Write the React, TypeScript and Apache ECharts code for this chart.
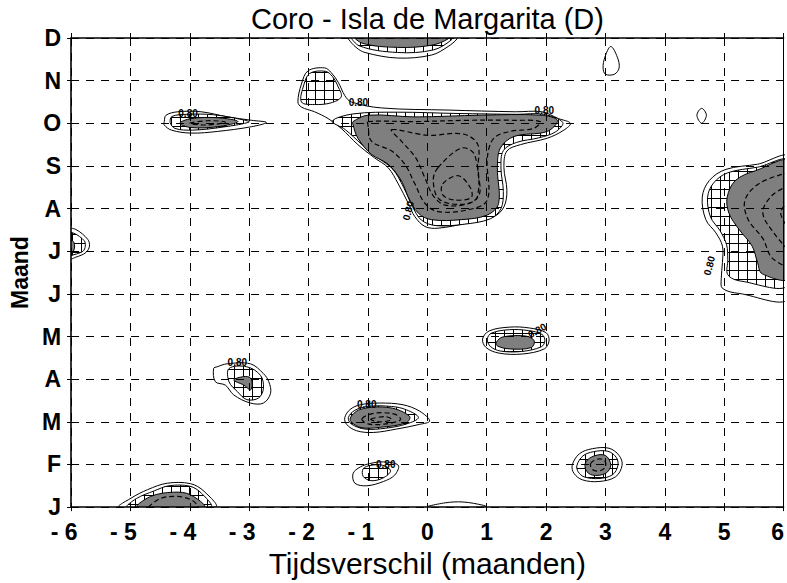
import React, { useEffect, useRef } from 'react';
import * as echarts from 'echarts';

const MONTH_LABELS = ['J', 'F', 'M', 'A', 'M', 'J', 'J', 'A', 'S', 'O', 'N', 'D'];
const LAG_MIN = -6;
const LAG_MAX = 6;
const TITLE = 'Coro - Isla de Margarita (D)';
const X_NAME = 'Tijdsverschil (maanden)';
const Y_NAME = 'Maand';
const LEVEL_TEXT = '0.80';

// Contour polygons in data units: [lag (months), month index (J=0 .. D=11)]
// outermost contour lines (white inside)
const mainOuter = [[-2.18,9.5],[-2.12,9.92],[-2.01,10.23],[-1.73,10.3],[-1.62,10.19],[-1.5,9.96],[-1.39,9.65],[-1.28,9.5],[-0.77,9.36],[0.35,9.31],[1.48,9.27],[1.93,9.27],[2.21,9.11],[2.41,9.0],[2.3,8.84],[2.02,8.65],[1.57,8.5],[1.34,8.35],[1.29,7.96],[1.34,7.43],[1.29,7.04],[1.12,6.81],[0.67,6.66],[0.18,6.54],[-0.04,6.58],[-0.21,6.81],[-0.32,7.12],[-0.49,7.58],[-0.66,7.96],[-0.89,8.19],[-1.17,8.5],[-1.45,8.88],[-1.67,9.11],[-1.9,9.27],[-2.12,9.38]];
const rightOuter = [[6.1,8.19],[5.56,8.04],[5.03,7.92],[4.75,7.66],[4.63,7.27],[4.69,6.74],[4.86,6.43],[4.97,6.12],[4.97,5.74],[4.95,5.36],[4.97,5.13],[5.25,5.01],[6.1,4.93]];
const octOuter = [[-4.43,9.04],[-4.4,9.19],[-4.2,9.27],[-3.81,9.27],[-3.36,9.15],[-2.96,9.07],[-2.71,9.02],[-2.96,8.92],[-3.53,8.81],[-3.98,8.77],[-4.31,8.84],[-4.43,8.96]];
const mayOuter = [[0.93,3.94],[1.04,4.13],[1.38,4.22],[1.72,4.2],[2.0,4.09],[2.05,3.9],[1.97,3.71],[1.6,3.59],[1.21,3.61],[0.99,3.74]];
const aprOuter = [[-3.6,3.25],[-3.54,3.29],[-3.37,3.36],[-2.98,3.36],[-2.76,3.13],[-2.67,2.94],[-2.64,2.67],[-2.76,2.44],[-2.98,2.44],[-3.26,2.63],[-3.4,2.86],[-3.57,2.94]];
const marOuter = [[-1.39,2.1],[-1.3,2.29],[-1.13,2.4],[-0.8,2.44],[-0.41,2.4],[-0.13,2.25],[0.04,2.02],[-0.13,1.94],[-0.52,1.83],[-0.91,1.75],[-1.19,1.79],[-1.36,1.94]];
const febLeftOuter = [[-1.25,0.79],[-1.13,0.94],[-0.97,1.02],[-0.74,1.06],[-0.49,0.98],[-0.55,0.75],[-0.74,0.6],[-1.02,0.5],[-1.22,0.56]];
const febRightOuter = [[2.44,0.98],[2.56,1.25],[2.78,1.37],[3.06,1.38],[3.23,1.21],[3.28,0.98],[3.17,0.71],[2.89,0.6],[2.61,0.64],[2.47,0.79]];
const janOuter = [[-5.19,0],[-4.99,0.21],[-4.71,0.41],[-4.38,0.56],[-3.99,0.55],[-3.76,0.37],[-3.57,0]];
const junOuter = [[-6.05,6.51],[-5.92,6.51],[-5.72,6.28],[-5.69,6.12],[-5.75,5.97],[-5.92,5.86],[-6.05,5.82]];
const decOuter = [[-1.36,11.1],[-1.33,10.98],[-1.2,10.78],[-1.05,10.66],[-0.5,10.53],[0.07,10.6],[0.35,10.8],[0.5,10.98],[0.52,11.1]];
const novOuter = [[3.09,10.8],[3.2,10.55],[3.23,10.3],[3.15,10.15],[3.0,10.15],[2.96,10.3],[2.99,10.55]];
const octSmallOuter = [[4.62,9.35],[4.7,9.19],[4.62,9.0],[4.54,9.19]];
const janSmallOuter = [[0.0,0],[0.3,0.1],[0.6,0.12],[0.95,0.04],[1.0,0]];

// hatched band
const mainHatch = [[-1.6,9.05],[-1.25,9.22],[-0.5,9.26],[0.5,9.23],[1.5,9.21],[1.96,9.21],[2.28,9.02],[2.16,8.8],[1.88,8.66],[1.5,8.55],[1.28,8.36],[1.24,7.95],[1.28,7.4],[1.24,7.0],[1.06,6.76],[0.6,6.63],[0.15,6.6],[-0.1,6.73],[-0.25,7.05],[-0.4,7.5],[-0.58,7.92],[-0.82,8.18],[-1.1,8.5],[-1.38,8.85]];
const lobeHatch = [[-2.12,9.5],[-2.08,9.9],[-1.98,10.17],[-1.72,10.22],[-1.6,10.1],[-1.5,9.85],[-1.45,9.62],[-1.62,9.48],[-1.9,9.44]];
const rightHatch = [[6.1,8.1],[5.56,7.97],[5.06,7.84],[4.82,7.6],[4.72,7.27],[4.77,6.8],[4.93,6.48],[5.04,6.15],[5.06,5.8],[5.06,5.45],[5.28,5.3],[6.1,5.25]];
const octHatch = [[-4.33,9.02],[-4.3,9.16],[-4.05,9.21],[-3.6,9.2],[-3.1,9.08],[-3.0,9.03],[-3.4,8.92],[-3.95,8.84],[-4.25,8.88]];
const mayHatch = [[1.01,3.94],[1.08,4.08],[1.38,4.16],[1.7,4.14],[1.93,4.05],[1.98,3.9],[1.92,3.76],[1.59,3.65],[1.23,3.66],[1.06,3.77]];
const aprHatch = [[-3.34,3.25],[-3.04,3.29],[-2.81,3.09],[-2.76,2.79],[-2.84,2.56],[-3.04,2.52],[-3.2,2.71],[-3.34,2.94]];
const marHatch = [[-1.33,2.1],[-1.22,2.27],[-1.0,2.36],[-0.6,2.36],[-0.35,2.28],[-0.15,2.1],[-0.35,1.95],[-0.7,1.85],[-1.05,1.83],[-1.28,1.95]];
const febLeftHatch = [[-1.08,0.9],[-0.95,0.98],[-0.75,0.98],[-0.62,0.85],[-0.75,0.68],[-0.95,0.62],[-1.08,0.72]];
const febRightHatch = [[2.52,0.98],[2.62,1.2],[2.8,1.3],[3.04,1.31],[3.18,1.17],[3.21,0.98],[3.12,0.76],[2.89,0.67],[2.64,0.71],[2.54,0.83]];
const janHatch = [[-5.05,0],[-4.9,0.2],[-4.6,0.38],[-4.35,0.5],[-4.0,0.49],[-3.8,0.32],[-3.65,0]];
const junHatch = [[-6.05,6.42],[-5.95,6.42],[-5.78,6.25],[-5.76,6.12],[-5.8,6.0],[-5.95,5.92],[-6.05,5.9]];
const decHatch = [[-1.28,11.1],[-1.15,10.82],[-0.5,10.66],[0.1,10.72],[0.4,10.95],[0.45,11.1]];

// grey core (highest level)
const mainCore = [[-1.25,9.04],[-1.0,9.19],[-0.21,9.15],[0.91,9.19],[1.91,9.19],[2.19,9.07],[2.02,8.81],[1.46,8.69],[1.23,8.42],[1.18,7.96],[1.2,7.12],[1.01,6.85],[0.57,6.74],[0.07,6.74],[-0.15,6.89],[-0.32,7.27],[-0.44,7.66],[-0.66,8.04],[-0.94,8.27],[-1.17,8.65],[-1.25,8.96]];
const rightCore = [[6.1,8.08],[5.53,7.89],[5.19,7.66],[5.05,7.27],[5.08,6.89],[5.25,6.51],[5.47,6.12],[5.56,5.74],[5.64,5.47],[6.1,5.39]];
const octCore = [[-4.17,9.0],[-3.98,9.11],[-3.53,9.13],[-3.19,9.04],[-3.53,8.92],[-3.98,8.9]];
const mayCore = [[1.16,3.86],[1.27,3.99],[1.66,4.01],[1.8,3.9],[1.75,3.74],[1.38,3.71],[1.18,3.78]];
const aprCore = [[-3.26,2.98],[-3.09,3.06],[-2.98,3.03],[-2.95,2.86],[-2.98,2.75],[-3.09,2.86]];
const marCore = [[-1.3,2.06],[-1.13,2.29],[-0.63,2.33],[-0.3,2.13],[-0.35,1.98],[-0.8,1.87],[-1.13,1.87]];
const febRightCore = [[2.67,1.06],[2.81,1.2],[3.0,1.21],[3.09,0.98],[3.0,0.79],[2.78,0.75],[2.67,0.87]];
const janCore = [[-4.88,0],[-4.66,0.25],[-4.27,0.35],[-3.99,0.29],[-3.76,0]];
const junCore = [[-6.05,6.3],[-5.95,6.2],[-5.96,6.0],[-6.05,5.95]];
const decCore = [[-1.25,11.1],[-1.1,10.88],[-0.5,10.78],[0.07,10.83],[0.35,10.98],[0.4,11.1]];

// dashed inner contours (closed)
const mainInner1 = [[-1.0,9.04],[-0.21,9.04],[0.69,9.07],[1.46,9.07],[1.9,9.04],[1.79,8.88],[1.4,8.81],[1.12,8.65],[1.01,8.19],[1.01,7.2],[0.68,6.97],[0.18,6.93],[-0.04,7.12],[-0.21,7.58],[-0.38,8.04],[-0.6,8.35],[-0.94,8.58],[-1.0,8.96]];
const mainInner2 = [[-0.6,8.85],[0.0,8.72],[0.6,8.75],[0.85,8.5],[0.85,7.9],[0.88,7.35],[0.7,7.12],[0.3,7.08],[0.1,7.3],[-0.05,7.75],[-0.2,8.2],[-0.45,8.6]];
const mainInner3 = [[0.18,7.96],[0.58,8.42],[0.8,8.25],[0.84,7.27],[0.58,7.1],[0.2,7.22],[0.1,7.66]];
const mainInner4 = [[0.26,7.58],[0.52,7.77],[0.72,7.5],[0.74,7.26],[0.46,7.2],[0.26,7.32]];
const marInner1 = [[-1.1,2.07],[-0.9,2.2],[-0.55,2.18],[-0.45,2.05],[-0.7,1.95],[-1.0,1.95]];
const marInner2 = [[-0.95,2.06],[-0.7,2.12],[-0.6,2.05],[-0.8,2.0]];
const febRightInner = [[2.75,1.02],[2.85,1.12],[2.98,1.1],[3.0,0.95],[2.9,0.85],[2.78,0.88]];
const octInner = [[-4.0,9.0],[-3.7,9.06],[-3.4,9.03],[-3.7,8.96]];
// dashed inner contours (open, leaving the plot)
const rightInner1 = [[6.1,7.85],[5.6,7.6],[5.35,7.2],[5.4,6.75],[5.65,6.3],[5.8,5.85],[6.1,5.6]];
const rightInner2 = [[6.1,7.55],[5.8,7.3],[5.65,6.9],[5.85,6.4],[6.1,6.0]];
const rightInner3 = [[6.1,7.2],[5.95,6.9],[6.1,6.5]];
const janInner = [[-4.7,0],[-4.5,0.2],[-4.2,0.25],[-3.95,0.15],[-3.85,0]];

// level labels: lag, month index, angle (deg)
const LABEL_LAGS = [-4.03, -1.16, 1.97, -0.32, 4.75, 1.85, -3.2, -1.02, -0.7];
const LABEL_MONTHS = [9.22, 9.48, 9.3, 6.95, 5.66, 4.14, 3.38, 2.4, 1.0];
const LABEL_ANGLES = [0, 0, 0, 75, 75, 30, 0, 0, 0];

const OUTER_SET = [mainOuter, rightOuter, octOuter, mayOuter, aprOuter, marOuter, febLeftOuter, febRightOuter, janOuter, junOuter, decOuter, novOuter, octSmallOuter, janSmallOuter];
const HATCH_SET = [mainHatch, lobeHatch, rightHatch, octHatch, mayHatch, aprHatch, marHatch, febLeftHatch, febRightHatch, janHatch, junHatch, decHatch];
const CORE_SET = [mainCore, rightCore, octCore, mayCore, aprCore, marCore, febRightCore, janCore, junCore, decCore];
const INNER_CLOSED = [mainInner1, mainInner2, mainInner3, mainInner4, marInner1, marInner2, febRightInner, octInner];
const INNER_OPEN = [rightInner1, rightInner2, rightInner3, janInner];

const FONT = '"Liberation Sans", Arial, Helvetica, sans-serif';

function centroid(p: number[][]) {
  let sx = 0, sy = 0;
  p.forEach(([x, y]) => { sx += x; sy += y; });
  return [sx / p.length, sy / p.length];
}

function layer(name: string, polys: number[][][], kind: 'polygon' | 'polyline', styleFn: () => any, z: number) {
  return {
    type: 'custom',
    name,
    coordinateSystem: 'cartesian2d',
    clip: true,
    silent: true,
    z,
    data: polys.map(centroid),
    renderItem: (params: any, api: any) => {
      const poly = polys[params.dataIndex];
      const points = poly.map((pt) => api.coord(pt));
      return { type: kind, shape: { points, smooth: 0.35 }, style: styleFn() };
    },
  };
}

export default function App() {
  const ref = useRef<HTMLDivElement>(null);
  useEffect(() => {
    const el = ref.current!;
    const tile = document.createElement('canvas');
    tile.width = 9; tile.height = 9;
    const g = tile.getContext('2d')!;
    g.fillStyle = '#ffffff'; g.fillRect(0, 0, 9, 9);
    g.fillStyle = '#000000'; g.fillRect(0, 0, 9, 1); g.fillRect(0, 0, 1, 9);
    const hatch: any = { image: tile, repeat: 'repeat', imageWidth: 9, imageHeight: 9 };

    const chart = echarts.init(el, null, { renderer: 'svg' });
    const lbl = { fontFamily: FONT, fontWeight: 'bold', fontSize: 23, color: '#000' };
    const gridLeft = 70;
    const gridRight = 2;
    const plotCenterX = gridLeft + (787 - gridLeft - gridRight) / 2;
    const option: any = {
      animation: false,
      backgroundColor: '#fff',
      graphic: [
        {
          type: 'text', x: plotCenterX, y: 4, silent: true,
          style: { text: TITLE, font: `normal 29px ${FONT}`, fill: '#000', align: 'center', verticalAlign: 'top' },
        },
      ],
      grid: { left: gridLeft, right: gridRight, top: 38, bottom: 67, containLabel: false },
      xAxis: [
        {
          type: 'value', min: LAG_MIN, max: LAG_MAX, interval: 1, position: 'bottom', z: 10,
          name: X_NAME, nameLocation: 'middle', nameGap: 30,
          nameTextStyle: { fontFamily: FONT, fontSize: 30, color: '#000' },
          axisLine: { show: true, onZero: false, lineStyle: { color: '#000', width: 1.6 } },
          axisTick: { show: true, length: 4, lineStyle: { color: '#000' } },
          splitLine: { show: true, lineStyle: { color: '#000', width: 1, type: [8, 7] } },
          axisLabel: {
            margin: 13, ...lbl,
            formatter: (v: number) => (v < 0 ? `{n|- ${-v}}` : v === LAG_MAX ? `{e|${v}}` : `{p|${v}}`),
            rich: { n: { ...lbl, padding: [0, 14, 0, 0] }, e: { ...lbl, padding: [0, 12, 0, 0] }, p: { ...lbl } },
          },
        },
        {
          type: 'value', min: LAG_MIN, max: LAG_MAX, interval: 1, position: 'top', z: 10,
          axisLine: { show: true, onZero: false, lineStyle: { color: '#000', width: 1.6 } },
          axisTick: { show: true, length: 5, lineStyle: { color: '#000' } },
          axisLabel: { show: false }, splitLine: { show: false },
        },
      ],
      yAxis: [
        {
          type: 'value', min: 0, max: 11, interval: 1, position: 'left', z: 10,
          name: Y_NAME, nameLocation: 'middle', nameGap: 36,
          nameTextStyle: { fontFamily: FONT, fontWeight: 'bold', fontSize: 23, color: '#000' },
          axisLine: { show: true, onZero: false, lineStyle: { color: '#000', width: 1.6 } },
          axisTick: { show: true, length: 4, lineStyle: { color: '#000' } },
          splitLine: { show: true, lineStyle: { color: '#000', width: 1, type: [8, 7] } },
          axisLabel: { margin: 10, ...lbl, formatter: (v: number) => MONTH_LABELS[v] ?? '' },
        },
        {
          type: 'value', min: 0, max: 11, interval: 1, position: 'right', z: 10,
          axisLine: { show: true, onZero: false, lineStyle: { color: '#000', width: 1 } },
          axisTick: { show: false }, axisLabel: { show: false }, splitLine: { show: false },
        },
      ],
      series: [
        layer('outer', OUTER_SET, 'polygon', () => ({ fill: '#ffffff', stroke: '#000', lineWidth: 1 }), 1),
        layer('hatch', HATCH_SET, 'polygon', () => ({ fill: hatch, stroke: '#000', lineWidth: 1 }), 2),
        layer('core', CORE_SET, 'polygon', () => ({ fill: '#7f7f7f', stroke: '#000', lineWidth: 1 }), 3),
        layer('inner', INNER_CLOSED, 'polygon', () => ({ fill: 'none', stroke: '#000', lineWidth: 1.2, lineDash: [5, 3] }), 4),
        layer('innerOpen', INNER_OPEN, 'polyline', () => ({ fill: 'none', stroke: '#000', lineWidth: 1.2, lineDash: [5, 3] }), 4),
        {
          type: 'custom', name: 'levels', coordinateSystem: 'cartesian2d', clip: true, silent: true, z: 5,
          data: LABEL_LAGS.map((x, i) => [x, LABEL_MONTHS[i], LABEL_ANGLES[i]]),
          renderItem: (params: any, api: any) => {
            const p = api.coord([api.value(0), api.value(1)]);
            return {
              type: 'text', x: p[0], y: p[1], rotation: (api.value(2) * Math.PI) / 180,
              style: { text: LEVEL_TEXT, font: `bold 10px ${FONT}`, fill: '#000', align: 'center', verticalAlign: 'middle' },
            };
          },
        },
      ],
    };
    chart.setOption(option);
    return () => chart.dispose();
  }, []);
  return <div ref={ref} style={{ position: 'fixed', left: 0, top: 0, width: 787, height: 583 }} />;
}
